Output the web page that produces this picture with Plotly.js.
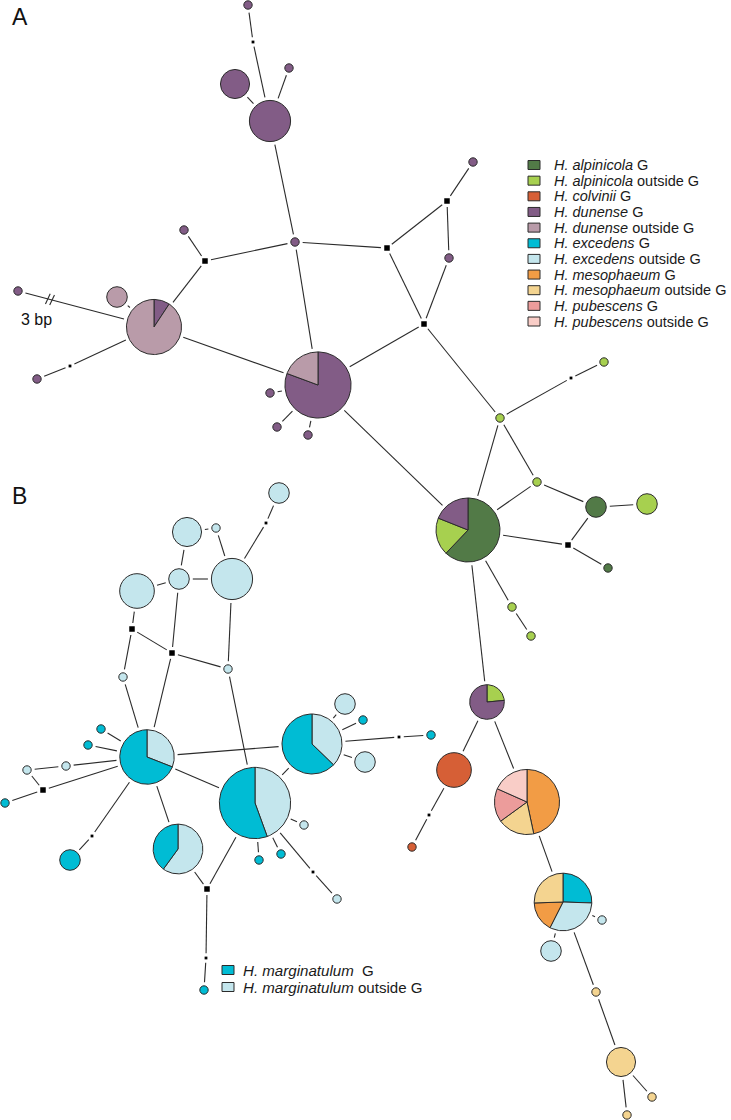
<!DOCTYPE html>
<html><head><meta charset="utf-8">
<script src="https://cdn.plot.ly/plotly-3.0.1.min.js"></script>
<style>html,body{margin:0;padding:0;background:#fff}</style>
</head><body><div id="chart" style="width:731px;height:1120px"></div>
<script>
// ---- groups (legend) ----
const groupNames = ['<i>H. alpinicola</i> G','<i>H. alpinicola</i> outside G','<i>H. colvinii</i> G','<i>H. dunense</i> G','<i>H. dunense</i> outside G','<i>H. excedens</i> G','<i>H. excedens</i> outside G','<i>H. mesophaeum</i> G','<i>H. mesophaeum</i> outside G','<i>H. pubescens</i> G','<i>H. pubescens</i> outside G'];
const groupColors = ['#527a47','#a7d04f','#d65f36','#825c86','#b99ba9','#00bcd4','#c4e6ed','#f29c45','#f4d490','#ec9c9b','#f9cdc7'];
const legendBNames = ['<i>H. marginatulum</i>  G','<i>H. marginatulum</i> outside G'];
const legendBGroups = [5,6];

// ---- single-colour haplotypes ----
const hapIds = ['A1','A2','A3','A4','A5','A6','A7','A8','A9','A10','A11','A12','A13','A14','A15','A16','A17','A18','A19','A20','A21','A22','A23','A24','A25','A26','A27','A28','A29','A30','A31',
 'B1','B2','B3','B4','B5','B6','B7','B8','B9','B10','B11','B12','B13','B14','B15','B16','B17','B18','B19','B20','B21','B22'];
const hapX = [248,235,289,270,295,184,117,18,37,473,449,270,277,308,604,500,537,596,647,608,512,531,454,412,602,551,596,621,652,627,431,
 279,187,216,179,232,137,228,123,101,88,66,27,5,70,345,363,365,304,259,281,337,204];
const hapY = [5,84,68,121,242,230,297,291,379,162,258,393,427,435,362,418,482,507,504,568,607,636,770,847,920,951,992,1062,1097,1115,735,
 493,532,528,579,579,591,669,677,729,745,766,770,803,860,704,720,762,825,860,854,899,990];
const hapCount = [1,12,1,24,1,1,6,1,1,1,1,1,1,1,1,1,1,6,6,1,1,1,17,1,1,6,1,12,1,1,1,
 6,12,1,6,24,17,1,1,1,1,1,1,1,6,6,1,6,1,1,1,1,1];
const hapGroup = [3,3,3,3,3,3,4,3,3,3,3,3,3,3,1,1,1,0,1,0,1,1,2,2,6,6,8,8,8,8,5,
 6,6,6,6,6,6,6,6,5,5,6,6,5,5,6,5,6,6,5,5,6,5];

// ---- pie haplotypes ----
const pieIds = ['PA1','PA2','PA3','PA4','PA5','PA6','PB1','PB2','PB3','PB4'];
const pieX = [154,318,468,487,527,563,147,255,312,178];
const pieY = [327,385,530,702,802,902,757,803,744,849];
const pieGroups = [[3,4],[3,4],[0,1,3],[1,3],[7,8,9,10],[5,6,7,8],[6,5],[6,5],[6,5],[6,5]];
const pieCounts = [[4,39],[50,12],[36,11,11],[4,13],[28,11,10,11],[12,15,8,12],[13,29],[32,40],[19,32],[21,14]];

// ---- median vectors ----
const medIds = ['M1','M2','M3','M4','M5','M6','M7','M8','M9','M10','N1','N2','N3','N4','N5','N6','N7','N8'];
const medX = [253,205,387,447,424,70,571,568,429,399,266,132,172,43,92,207,313,206];
const medY = [42,261,248,201,324,366,378,545,815,737,523,629,653,790,836,889,872,958];
const medBig = [0,1,1,1,1,0,0,1,0,0,0,1,1,1,0,1,0,0];

// ---- links ----
const links = [
 ['A1','M1'],['M1','A4'],['A2','A4'],['A3','A4'],['A4','A5'],['A5','M2'],['M2','A6'],['M2','PA1'],['A5','M3'],['A5','PA2'],
 ['M3','M4'],['M4','A10'],['M4','A11'],['A11','M5'],['M3','M5'],['M5','PA2'],['M5','A16'],['PA1','A7'],['A8','PA1'],['PA1','M6'],
 ['M6','A9'],['PA1','PA2'],['PA2','A12'],['PA2','A13'],['PA2','A14'],['PA2','PA3'],['A16','M7'],['M7','A15'],['A16','PA3'],['A16','A17'],
 ['A17','PA3'],['A17','A18'],['A18','A19'],['A18','M8'],['M8','A20'],['M8','PA3'],['PA3','A21'],['A21','A22'],['PA3','PA4'],['PA4','A23'],
 ['PA4','PA5'],['A23','M9'],['M9','A24'],['PA5','PA6'],['PA6','A25'],['PA6','A26'],['PA6','A27'],['A27','A28'],['A28','A29'],['A28','A30'],
 ['B1','N1'],['N1','B5'],['B2','B3'],['B3','B5'],['B2','B4'],['B4','B5'],['B6','B4'],['B6','N2'],['N2','B8'],['B8','PB1'],
 ['N2','N3'],['N3','B4'],['N3','B7'],['N3','PB1'],['B5','B7'],['B7','PB2'],['PB1','PB3'],['PB1','PB2'],['PB3','PB2'],['PB1','B9'],
 ['PB1','B10'],['PB1','B11'],['B11','B12'],['B12','N4'],['N4','PB1'],['N4','B13'],['PB1','N5'],['N5','B14'],['PB1','PB4'],['PB3','B15'],
 ['PB3','B16'],['PB3','B17'],['PB3','M10'],['M10','A31'],['PB2','B18'],['PB2','B19'],['PB2','B20'],['PB2','N7'],['N7','B21'],['PB2','N6'],
 ['PB4','N6'],['N6','N8'],['N8','B22']
];
const breakLink = ['A8','PA1'];

// ---- styling ----
const R0 = 4.2, GAP = 3.5, INK = '#2b2b2b';
const FONT = 'Liberation Sans, Arial, sans-serif';
const rOf = n => R0 * Math.sqrt(n);

const nodes = {};
hapIds.forEach((id,i)=>{nodes[id]={x:hapX[i],y:hapY[i],r:rOf(hapCount[i])};});
pieIds.forEach((id,i)=>{nodes[id]={x:pieX[i],y:pieY[i],r:rOf(pieCounts[i].reduce((a,b)=>a+b,0))};});
medIds.forEach((id,i)=>{nodes[id]={x:medX[i],y:medY[i],r:medBig[i]?2.6:1.3};});

const traces = [];
// edges
const ex=[], ey=[];
links.forEach(([a,b])=>{
  const A=nodes[a], B=nodes[b];
  const dx=B.x-A.x, dy=B.y-A.y, L=Math.hypot(dx,dy);
  const ux=dx/L, uy=dy/L;
  const sa=A.r+GAP, sb=B.r+GAP;
  if (L > sa+sb) {
    ex.push(A.x+ux*sa, B.x-ux*sb, null);
    ey.push(A.y+uy*sa, B.y-uy*sb, null);
  }
});
// break marks
{
  const A=nodes[breakLink[0]], B=nodes[breakLink[1]];
  const dx=B.x-A.x, dy=B.y-A.y, L=Math.hypot(dx,dy), ux=dx/L, uy=dy/L;
  const px=uy, py=-ux;
  const t=0.235;
  const cx=A.x+dx*t, cy=A.y+dy*t;
  [-2.2,2.2].forEach(o=>{
    const mx=cx+ux*o, my=cy+uy*o;
    ex.push(mx-px*5.5-ux, mx+px*5.5+ux, null);
    ey.push(my-py*5.5-uy, my+py*5.5+uy, null);
  });
}
traces.push({type:'scatter',mode:'lines',x:ex,y:ey,line:{color:INK,width:1.1},hoverinfo:'skip',showlegend:false});

// single circles
traces.push({type:'scatter',mode:'markers',x:hapX,y:hapY,
  marker:{size:hapCount.map(n=>2*rOf(n)),sizemode:'diameter',opacity:1,color:hapGroup.map(g=>groupColors[g]),line:{color:INK,width:1}},
  hoverinfo:'skip',showlegend:false});

// pies
pieIds.forEach((id,i)=>{
  const cx=pieX[i], cy=pieY[i], counts=pieCounts[i];
  const tot=counts.reduce((a,b)=>a+b,0), r=rOf(tot);
  let a0=0;
  counts.forEach((c,k)=>{
    const a1=a0+c/tot*2*Math.PI;
    const xs=[cx], ys=[cy];
    const steps=Math.max(2,Math.ceil((a1-a0)/(Math.PI/90)));
    for(let s=0;s<=steps;s++){const a=a0+(a1-a0)*s/steps; xs.push(cx+r*Math.sin(a)); ys.push(cy-r*Math.cos(a));}
    xs.push(cx); ys.push(cy);
    traces.push({type:'scatter',mode:'lines',x:xs,y:ys,fill:'toself',fillcolor:groupColors[pieGroups[i][k]],
      line:{color:INK,width:1},hoverinfo:'skip',showlegend:false});
    a0=a1;
  });
});

// median vectors
traces.push({type:'scatter',mode:'markers',x:medX,y:medY,
  marker:{symbol:'square',size:medBig.map(b=>b?5.5:2.8),opacity:1,color:'#000',line:{width:0}},hoverinfo:'skip',showlegend:false});

// legends and labels
const annotations=[], shapes=[];
const LAx=528, LAy=165, LAstep=15.65, TSA=14.5, TSB=15.1;
groupNames.forEach((nm,i)=>{
  const y=LAy+i*LAstep;
  shapes.push({type:'rect',xref:'x',yref:'y',x0:LAx,x1:LAx+12,y0:y-4.5,y1:y+4.5,fillcolor:groupColors[i],line:{color:INK,width:1}});
  annotations.push({x:552,y:y,xref:'x',yref:'y',text:nm,showarrow:false,xanchor:'left',yanchor:'middle',font:{family:FONT,size:TSA,color:'#1a1a1a'}});
});
const LBx=222, LBy=970, LBstep=17;
legendBNames.forEach((nm,i)=>{
  const y=LBy+i*LBstep;
  shapes.push({type:'rect',xref:'x',yref:'y',x0:LBx,x1:LBx+12,y0:y-4.5,y1:y+4.5,fillcolor:groupColors[legendBGroups[i]],line:{color:INK,width:1}});
  annotations.push({x:241,y:y,xref:'x',yref:'y',text:nm,showarrow:false,xanchor:'left',yanchor:'middle',font:{family:FONT,size:TSB,color:'#1a1a1a'}});
});
annotations.push({x:10,y:17,xref:'x',yref:'y',text:'A',showarrow:false,xanchor:'left',yanchor:'middle',font:{family:FONT,size:23,color:'#111'}});
annotations.push({x:10,y:496,xref:'x',yref:'y',text:'B',showarrow:false,xanchor:'left',yanchor:'middle',font:{family:FONT,size:23,color:'#111'}});
annotations.push({x:19,y:319,xref:'x',yref:'y',text:'3 bp',showarrow:false,xanchor:'left',yanchor:'middle',font:{family:FONT,size:16,color:'#111'}});

const layout={width:731,height:1120,margin:{l:0,r:0,t:0,b:0,pad:0},paper_bgcolor:'#fff',plot_bgcolor:'#fff',
  xaxis:{range:[0,731],visible:false,fixedrange:true},
  yaxis:{range:[1120,0],visible:false,fixedrange:true},
  showlegend:false,annotations:annotations,shapes:shapes};
Plotly.newPlot('chart',traces,layout,{staticPlot:true,displayModeBar:false});
</script></body></html>
